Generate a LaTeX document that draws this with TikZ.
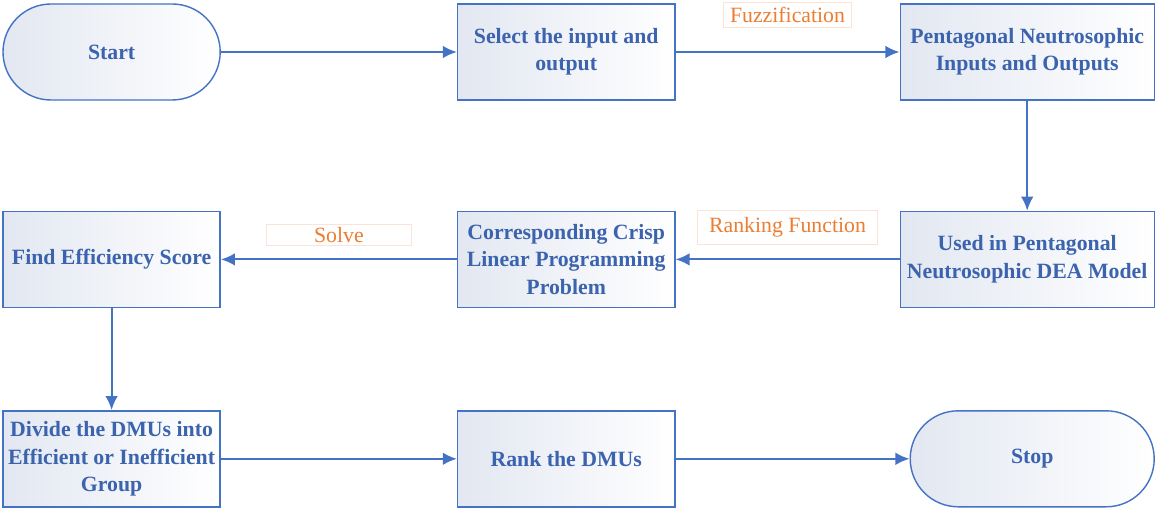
\documentclass[tikz,border=0pt]{standalone}
\usepackage{fontspec}
\setmainfont{Liberation Serif}
\usepackage{xcolor}
\usetikzlibrary{shapes.geometric, arrows.meta, positioning, calc}

\definecolor{lineblue}{HTML}{4472C4}
\definecolor{textblue}{HTML}{3B63AE}
\definecolor{boxfill}{HTML}{E2E7F1}
\definecolor{tagorange}{HTML}{ED7D31}
\definecolor{tagborder}{HTML}{FBE3DA}

\begin{document}
\begin{tikzpicture}[
    stepbox/.style={rectangle, draw=lineblue, line width=1pt, left color=boxfill, right color=white, minimum width=5.43cm, minimum height=2.4cm, text centered, align=center, text=textblue, font=\fontsize{15.5}{19.5}\selectfont\bfseries},
    term/.style={stepbox, rounded corners=1.2cm},
    tag/.style={rectangle, draw=tagborder, line width=0.6pt, fill=white, text=tagorange, inner sep=0pt, font=\fontsize{15.5}{18}\selectfont},
    arrow/.style={line width=1.5pt, draw=lineblue, ->, >={Latex[length=10pt,width=9pt]}}
]
\useasboundingbox (0,0) rectangle (29,-12.8);

% First row
\node[term] (start) at (2.79,-1.3) {Start};
\node[stepbox, right=5.9cm of start] (select) {Select the input and\\output};
\node[stepbox, minimum width=6.35cm, right=5.6cm of select] (pent) {Pentagonal Neutrosophic\\Inputs and Outputs};

% Second row
\node[stepbox, minimum width=6.35cm, below=2.75cm of pent] (used) {Used in Pentagonal\\Neutrosophic DEA Model};
\node[stepbox, left=5.6cm of used] (crisp) {Corresponding Crisp\\Linear Programming\\Problem};
\node[stepbox, left=5.9cm of crisp] (score) {Find Efficiency Score};

% Third row
\node[stepbox, below=2.55cm of score] (divide) {Divide the DMUs into\\Efficient or Inefficient\\Group};
\node[stepbox, right=5.9cm of divide] (rank) {Rank the DMUs};
\node[term, minimum width=6.1cm, right=5.85cm of rank] (stop) {Stop};

% Arrows
\draw[arrow] (start) -- (select);
\draw[arrow] (select) -- node[tag, minimum width=3.18cm, minimum height=0.63cm, above=0.6cm] {Fuzzification} (pent);
\draw[arrow] (pent) -- (used);
\draw[arrow] (used) -- node[tag, minimum width=4.5cm, minimum height=0.83cm, above=0.375cm] {Ranking Function} (crisp);
\draw[arrow] (crisp) -- node[tag, minimum width=3.63cm, minimum height=0.53cm, above=0.33cm] {Solve} (score);
\draw[arrow] (score) -- (divide);
\draw[arrow] (divide) -- (rank);
\draw[arrow] (rank) -- (stop);

\end{tikzpicture}
\end{document}
